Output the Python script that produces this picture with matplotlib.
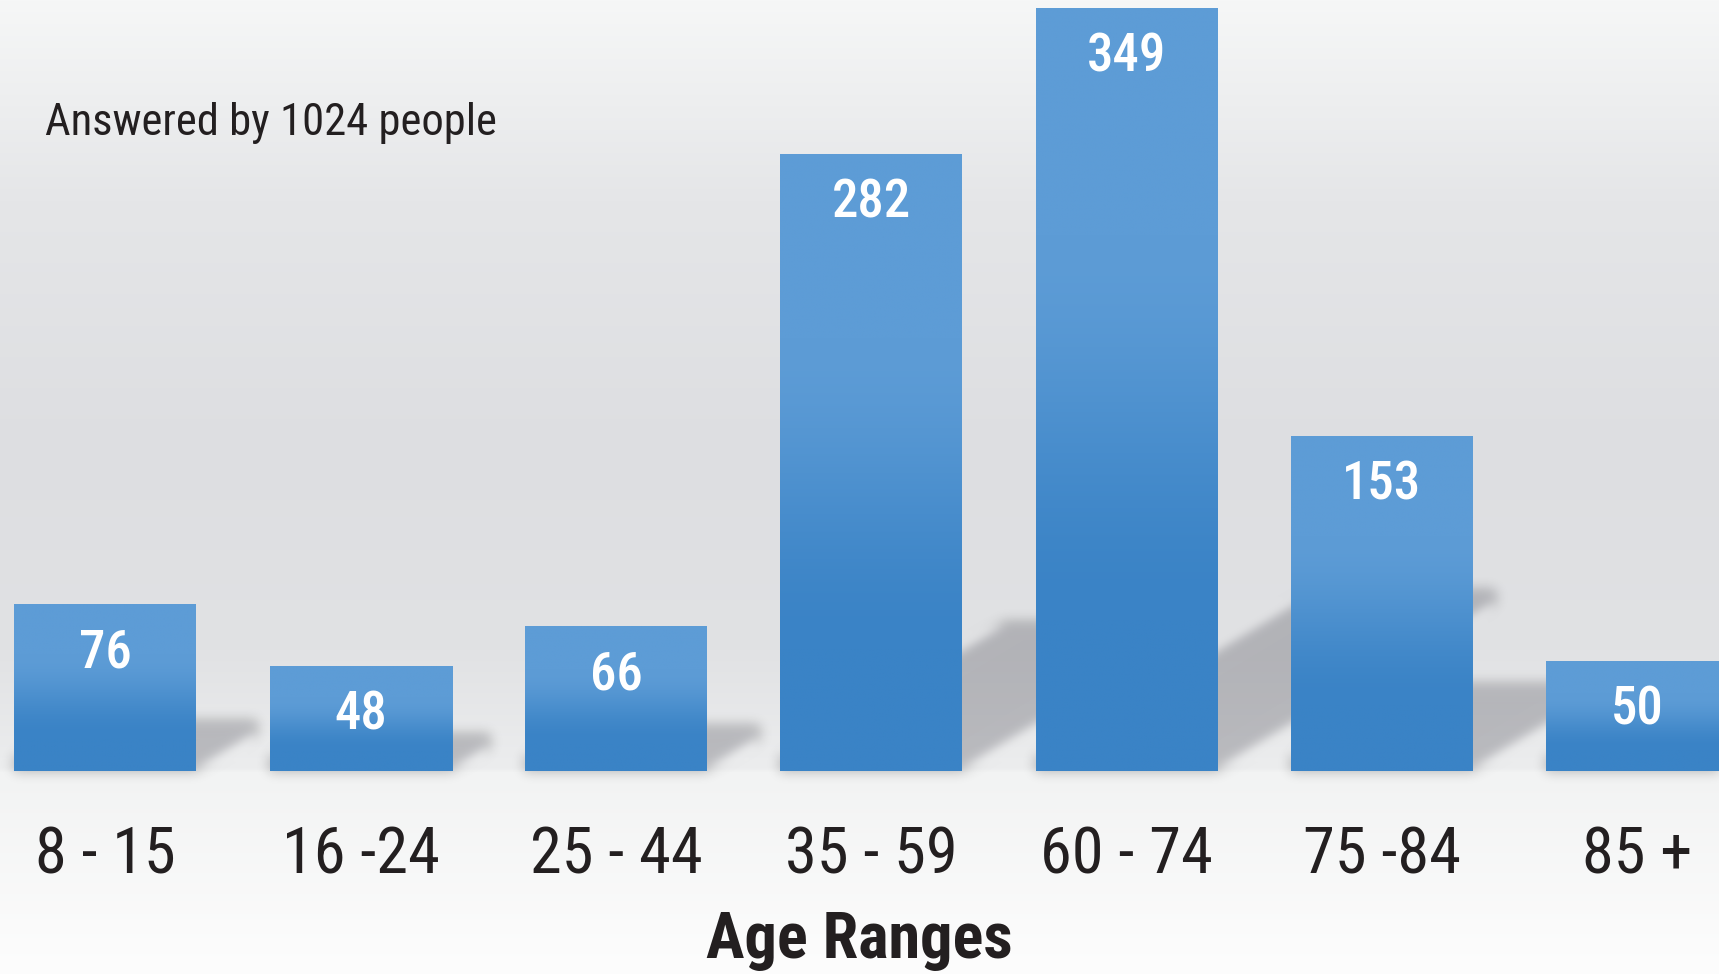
import numpy as np
import matplotlib
matplotlib.use("Agg")
import matplotlib.pyplot as plt
from matplotlib.patches import Polygon
from matplotlib import font_manager

# ---- data ----
categories = ["8 - 15", "16 -24", "25 - 44", "35 - 59", "60 - 74", "75 -84", "85 +"]
values = [76, 48, 66, 282, 349, 153, 50]
note_text = "Answered by 1024 people"
xlabel_text = "Age Ranges"

# ---- fonts ----
avail = {f.name for f in font_manager.fontManager.ttflist}
FONT = next((n for n in ["Roboto Condensed", "Fira Sans Condensed", "PT Sans Narrow",
                         "Liberation Sans Narrow", "Liberation Sans"] if n in avail), "DejaVu Sans")
plt.rcParams["font.family"] = [FONT, "DejaVu Sans"]
TXT = "#231f20"

W, H, DPI = 1719, 974, 100
fig = plt.figure(figsize=(W / DPI, H / DPI), dpi=DPI)
renderer = fig.canvas.get_renderer()


def fit_size(text, size, target_w, weight="normal"):
    t = fig.text(0, 0, text, fontsize=size, fontweight=weight)
    w = t.get_window_extent(renderer=renderer).width
    t.remove()
    return size * (target_w / w) ** 0.5


# ---- background gradient ----
bg = fig.add_axes([0, 0, 1, 1], zorder=0)
bg.axis("off")
ys = np.arange(H)
stops_y = [0, 200, 450, 650, 768, 772, 974]
stops_c = np.array([(246, 247, 247), (229, 230, 232), (221, 222, 225), (225, 226, 228),
                    (236, 237, 238), (242, 243, 243), (253, 253, 253)]) / 255.0
grad = np.stack([np.interp(ys, stops_y, stops_c[:, k]) for k in range(3)], axis=1)
bg.imshow(grad[:, None, :], aspect="auto", extent=[0, 1, 0, 1], transform=bg.transAxes)
bg.set_xlim(0, 1); bg.set_ylim(0, 1)

# ---- main axes ----
base_px = 771
px_per_unit = 2.186
pitch_px = 255.3
first_center_px = 105.3
ax = fig.add_axes([0, (H - base_px) / H, 1, base_px / H], zorder=1)
ax.patch.set_alpha(0)
for s in ax.spines.values():
    s.set_visible(False)
xlim = (-first_center_px / pitch_px, (W - first_center_px) / pitch_px)
ylim = (0, base_px / px_per_unit)

x = np.arange(len(values))
bw = 182 / pitch_px
bars = ax.bar(x, values, width=bw, color="#4a8fcf", linewidth=0, zorder=3)


# blur filter for shadows
def blur_filter(im, dpi, sigma=6):
    r = int(3 * sigma)
    k = np.exp(-0.5 * (np.arange(-r, r + 1) / sigma) ** 2)
    k /= k.sum()
    p = np.pad(im, ((r, r), (r, r), (0, 0)))
    out = np.zeros_like(p)
    for i, w in enumerate(k):
        out += w * np.roll(p, i - r, axis=0)
    out2 = np.zeros_like(out)
    for i, w in enumerate(k):
        out2 += w * np.roll(out, i - r, axis=1)
    return out2, -r, -r


val_size = fit_size("349", 38.5, 78, "medium")
light = np.array([93, 156, 214]) / 255
dark = np.array([58, 131, 198]) / 255
d_depth = 14 / px_per_unit
for rect, v in zip(bars, values):
    xl = rect.get_x()
    xr = xl + rect.get_width()
    h = rect.get_height()
    L = 0.364 * h * px_per_unit / pitch_px
    R = 0.219 * h
    poly = Polygon([(xl, 0), (xr, 0), (xr + L, R), (xr + L, R + d_depth),
                    (xl + L, R + d_depth), (xl, d_depth)], closed=True,
                   facecolor=(0.33, 0.33, 0.37), alpha=0.33, linewidth=0, zorder=2)
    poly.set_agg_filter(blur_filter)
    ax.add_patch(poly)
    # bar gradient
    t = np.linspace(0, 1, 200)
    f = np.clip((t - 0.3) / 0.5, 0, 1)
    f = f * f * (3 - 2 * f)
    g = light[None, :] * (1 - f[:, None]) + dark[None, :] * f[:, None]
    ax.imshow(g[:, None, :], aspect="auto", extent=[xl, xr, 0, h], origin="upper",
              zorder=3.5, interpolation="bilinear")
    # value label
    ax.text(xl + rect.get_width() / 2, h - 63 / px_per_unit, str(v),
            ha="center", va="baseline", color="white", fontsize=val_size,
            fontweight="medium", zorder=5)

ax.set_xlim(*xlim)
ax.set_ylim(*ylim)
ax.set_yticks([])
ax.set_xticks(x)
tick_size = fit_size("8 - 15", 46.6, 140)
ax.set_xticklabels(categories, fontsize=tick_size, color=TXT)
ax.tick_params(axis="x", length=0, pad=(873 - base_px) * 72 / DPI)
for lbl in ax.get_xticklabels():
    lbl.set_va("baseline")
xl_size = fit_size(xlabel_text, 46.6, 305, "bold")
ax.set_xlabel(xlabel_text, fontsize=xl_size, fontweight="bold", color=TXT)
ax.xaxis.label.set_va("baseline")
ax.xaxis.set_label_coords(0.5, -(958 - base_px) / base_px)

note_size = fit_size(note_text, 32.4, 449)
fig.text(45 / W, (H - 135) / H, note_text, fontsize=note_size, color=TXT,
         ha="left", va="baseline", zorder=5)

fig.savefig("out.png", dpi=DPI)
